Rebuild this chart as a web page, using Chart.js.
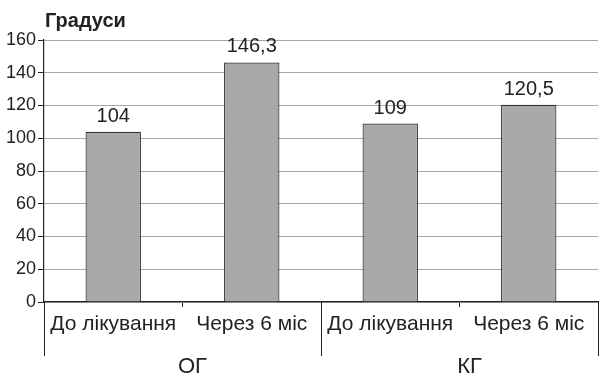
<!DOCTYPE html>
<html>
<head>
<meta charset="utf-8">
<script src="https://cdn.jsdelivr.net/npm/chart.js@4/dist/chart.umd.min.js"></script>
<style>
  html, body { margin: 0; padding: 0; background: #fff; }
  #c { display: block; }
</style>
</head>
<body>
<canvas id="c" width="609" height="383"></canvas>
<script>
// Data
const categories = ['До лікування', 'Через 6 міс', 'До лікування', 'Через 6 міс'];
const groups = ['ОГ', 'КГ'];
const groupSize = [2, 2];
const values = [104, 146.3, 109, 120.5];
const yTicks = [0, 20, 40, 60, 80, 100, 120, 140, 160];
const yTitle = 'Градуси';

const FONT = '"Liberation Sans", Arial, Helvetica, sans-serif';
const INK = '#222';

// Bar value labels, Ukrainian decimal comma
const valueLabels = {
  id: 'valueLabels',
  afterDatasetsDraw(chart) {
    const ctx = chart.ctx;
    const meta = chart.getDatasetMeta(0);
    ctx.save();
    ctx.font = '20px ' + FONT;
    ctx.fillStyle = INK;
    ctx.textAlign = 'center';
    ctx.textBaseline = 'alphabetic';
    meta.data.forEach((bar, i) => {
      const txt = String(values[i]).replace('.', ',');
      ctx.fillText(txt, bar.x, bar.y - 10);
    });
    ctx.restore();
  }
};

// Axis title, group labels and group separators under the x axis
const decorations = {
  id: 'decorations',
  afterDraw(chart) {
    const ctx = chart.ctx;
    const area = chart.chartArea;
    const x = chart.scales.x;
    ctx.save();
    ctx.font = 'bold 20px ' + FONT;
    ctx.fillStyle = INK;
    ctx.textAlign = 'left';
    ctx.textBaseline = 'alphabetic';
    ctx.fillText(yTitle, 45, 27);

    const half = (x.getPixelForValue(1) - x.getPixelForValue(0)) / 2;
    ctx.strokeStyle = INK;
    ctx.lineWidth = 1;
    let start = 0;
    const bounds = [x.getPixelForValue(0) - half];
    groups.forEach((g, gi) => {
      const end = start + groupSize[gi] - 1;
      const left = x.getPixelForValue(start) - half;
      const right = x.getPixelForValue(end) + half;
      bounds.push(right);
      ctx.font = '22px ' + FONT;
      ctx.textAlign = 'center';
      ctx.textBaseline = 'alphabetic';
      ctx.fillText(g, (left + right) / 2 + 10, 372.5);
      start = end + 1;
    });
    bounds.forEach(bx => {
      const px = Math.round(bx) + 0.5;
      ctx.beginPath();
      ctx.moveTo(px, area.bottom);
      ctx.lineTo(px, 356);
      ctx.stroke();
    });
    ctx.restore();
  }
};

new Chart(document.getElementById('c'), {
  type: 'bar',
  data: {
    labels: categories,
    datasets: [{
      data: values,
      backgroundColor: '#a9a9a9',
      borderColor: '#333',
      borderWidth: 1.2,
      barPercentage: 0.4,
      categoryPercentage: 1.0
    }]
  },
  options: {
    responsive: false,
    animation: false,
    devicePixelRatio: 1,
    layout: { padding: { top: 40, right: 11, left: 0, bottom: 0 } },
    plugins: {
      legend: { display: false },
      tooltip: { enabled: false },
      title: { display: false }
    },
    scales: {
      x: {
        grid: {
          offset: true,
          drawOnChartArea: false,
          tickLength: 5,
          tickColor: INK,
          lineWidth: 1
        },
        border: { color: INK, width: 1.2 },
        ticks: {
          color: INK,
          font: { family: FONT, size: 21 },
          padding: 5,
          maxRotation: 0,
          autoSkip: false
        },
        afterFit(scale) { scale.height = 81; }
      },
      y: {
        min: 0,
        max: 160,
        afterBuildTicks(scale) { scale.ticks = yTicks.map(v => ({ value: v })); },
        grid: {
          color: '#a6a6a6',
          tickColor: INK,
          tickLength: 6,
          lineWidth: 1
        },
        border: { color: INK, width: 1.2 },
        ticks: {
          color: INK,
          font: { family: FONT, size: 18 },
          padding: 2
        },
        afterFit(scale) { scale.width = 44; }
      }
    }
  },
  plugins: [valueLabels, decorations]
});
</script>
</body>
</html>
